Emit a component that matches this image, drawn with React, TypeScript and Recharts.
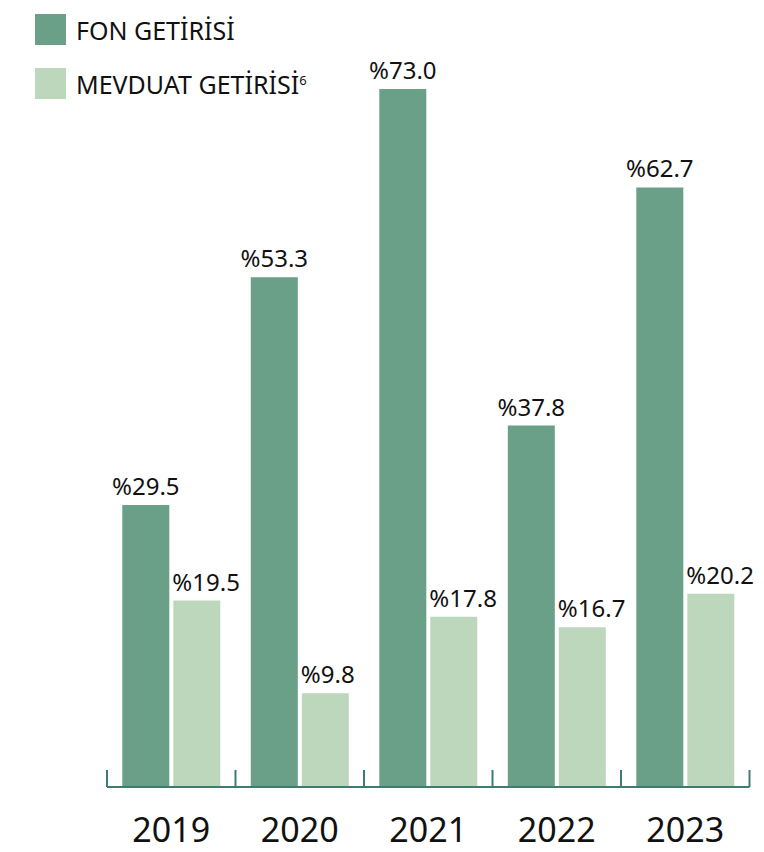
import { BarChart, Bar, XAxis, YAxis, LabelList } from "recharts";

const YEARS = ["2019", "2020", "2021", "2022", "2023"];
const FON = [29.5, 53.3, 73.0, 37.8, 62.7];
const MEVDUAT = [19.5, 9.8, 17.8, 16.7, 20.2];

const DARK = "#6a9f88";
const LIGHT = "#bdd7bd";
const AXIS = "#3f7b72";
const FONT = "'Noto Sans', sans-serif";

const data = YEARS.map((year, i) => ({ year, fon: FON[i], mevduat: MEVDUAT[i] }));

function YearTick(props: any) {
  const { x, y, payload, index, bandW } = props;
  const half = bandW / 2;
  const base = y - 8;
  return (
    <g>
      <line x1={x - half} x2={x - half} y1={base - 17} y2={base} stroke={AXIS} strokeWidth={2} />
      {index === YEARS.length - 1 && (
        <line x1={x + half} x2={x + half} y1={base - 17} y2={base} stroke={AXIS} strokeWidth={2} />
      )}
      <text x={x} y={base + 55} textAnchor="middle" fontSize={34} fill="#111" fontFamily={FONT}>
        {payload.value}
      </text>
    </g>
  );
}

// light-bar labels sit flush with the bar's left edge
function LeftLabel(props: any) {
  const { x, y, value } = props;
  return (
    <text x={x - 1} y={y - 10} fontSize={24} fill="#111" fontFamily={FONT}>
      {fmt(value)}
    </text>
  );
}

function LegendBox() {
  const items = [
    { label: "FON GETİRİSİ", color: DARK, sup: "" },
    { label: "MEVDUAT GETİRİSİ", color: LIGHT, sup: "6" },
  ];
  return (
    <div style={{ position: "absolute", left: 35, top: 14, fontFamily: FONT }}>
      {items.map((it, i) => (
        <div key={it.label} style={{ display: "flex", alignItems: "center", height: 31, marginBottom: i === 0 ? 23 : 0 }}>
          <span style={{ width: 31, height: 31, background: it.color, display: "inline-block", marginRight: 10 }} />
          <span style={{ fontSize: 25, color: "#111", whiteSpace: "nowrap" }}>
            {it.label}
            {it.sup && <sup style={{ fontSize: 13 }}>{it.sup}</sup>}
          </span>
        </div>
      ))}
    </div>
  );
}

const fmt = (v: any) => "%" + Number(v).toFixed(1);

export default function App() {
  const W = 764;
  const H = 852;
  const margin = { top: 22, right: 14.5, bottom: 0, left: 107 };
  const bandW = (W - margin.left - margin.right) / YEARS.length;
  return (
    <div style={{ position: "absolute", left: 0, top: 0, width: W, height: H, background: "#fff" }}>
      <BarChart width={W} height={H} data={data} margin={margin} barCategoryGap={15.3} barGap={4}>
        <XAxis
          dataKey="year"
          axisLine={{ stroke: AXIS, strokeWidth: 2 }}
          tickLine={false}
          tick={<YearTick bandW={bandW} />}
          height={65}
          interval={0}
        />
        <YAxis hide domain={[0, 80]} />
        <Bar dataKey="fon" fill={DARK} isAnimationActive={false}>
          <LabelList dataKey="fon" position="top" offset={10} formatter={fmt} fontSize={24} fill="#111" fontFamily={FONT} />
        </Bar>
        <Bar dataKey="mevduat" fill={LIGHT} isAnimationActive={false}>
          <LabelList dataKey="mevduat" content={<LeftLabel />} />
        </Bar>
      </BarChart>
      <LegendBox />
    </div>
  );
}
